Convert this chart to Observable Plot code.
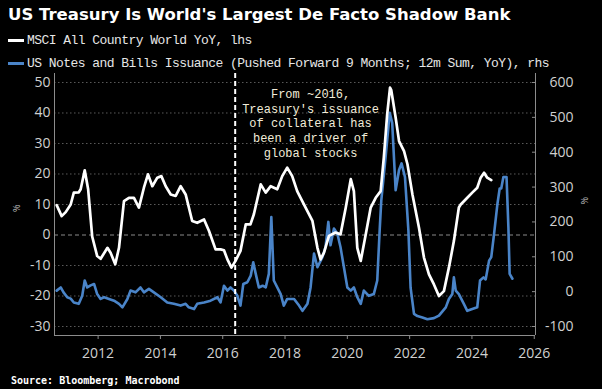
<!DOCTYPE html>
<html><head><meta charset="utf-8">
<script src="https://cdn.jsdelivr.net/npm/d3@7"></script>
<script src="https://cdn.jsdelivr.net/npm/@observablehq/plot@0.6"></script>
<style>
html,body{margin:0;padding:0;background:#000;}
body{width:602px;height:389px;overflow:hidden;}
#head{position:relative;height:70px;}
.title{position:absolute;left:8px;top:4px;font-family:"DejaVu Sans";font-weight:bold;font-size:16.5px;color:#fff;white-space:nowrap;line-height:22px;}
.leg{position:absolute;left:8px;height:16px;font-family:"Liberation Mono";font-size:13px;letter-spacing:-0.55px;color:#e6e6e6;white-space:nowrap;display:flex;align-items:center;}
.sw{display:inline-block;width:16px;height:3px;margin-right:3px;}
#chart svg{display:block;}
#foot{height:21px;line-height:21px;padding-left:11px;font-family:"DejaVu Sans Mono";font-weight:bold;font-size:10px;color:#fff;}
</style></head>
<body>
<div id="head">
  <div class="title">US Treasury Is World's Largest De Facto Shadow Bank</div>
  <div class="leg" style="top:32px"><span class="sw" style="background:#fff"></span>MSCI All Country World YoY, lhs</div>
  <div class="leg" style="top:55px"><span class="sw" style="background:#4a84c8"></span>US Notes and Bills Issuance (Pushed Forward 9 Months; 12m Sum, YoY), rhs</div>
</div>
<div id="chart"></div>
<div id="foot">Source: Bloomberg; Macrobond</div>
<script>
// MSCI All Country World YoY (%), left axis
const msciYears = [2010.67,2010.83,2010.96,2011.12,2011.22,2011.38,2011.44,2011.57,2011.68,2011.81,2011.97,2012.08,2012.30,2012.40,2012.55,2012.67,2012.83,2012.99,2013.15,2013.31,2013.47,2013.60,2013.74,2013.90,2014.03,2014.17,2014.33,2014.49,2014.65,2014.81,2015.02,2015.18,2015.40,2015.56,2015.77,2015.93,2016.04,2016.15,2016.28,2016.41,2016.57,2016.74,2016.89,2017.00,2017.22,2017.38,2017.54,2017.75,2017.91,2018.07,2018.23,2018.39,2018.50,2018.66,2018.88,2019.04,2019.14,2019.25,2019.41,2019.62,2019.78,2019.95,2020.11,2020.21,2020.32,2020.43,2020.59,2020.75,2020.91,2021.07,2021.17,2021.28,2021.37,2021.41,2021.55,2021.66,2021.82,2021.93,2022.09,2022.30,2022.46,2022.62,2022.78,2022.94,2023.10,2023.26,2023.42,2023.58,2023.64,2023.85,2024.01,2024.17,2024.28,2024.39,2024.49,2024.62];
const msciValues = [9.8,6.2,7.5,10,13.9,14,15,21.2,15,-0.5,-6.9,-7.8,-4.2,-5.8,-9.6,-4.2,11.1,12.2,12.2,9,15.5,19.9,16,18.8,19.3,16,13.3,12.8,16,13.3,4.6,4,5.1,1.3,-4.7,-4.7,-5,-8,-10.7,-8.5,-5.2,3.5,3.5,6.8,16.6,13.9,16,15,19.3,22.1,19.3,14.4,12.2,9,4.6,-4.2,-8,-5.8,-0.3,0.8,0.2,9,18.3,14.4,-4.2,-8.5,0.2,9,12.2,14.4,25.3,39.6,48.3,47.5,38.5,30.8,27.5,23.2,13.3,2.4,-7.4,-12.9,-16.2,-20,-18.4,-10.7,-2,9,10,12.2,13.9,15.5,18.8,20.4,18.8,18];

// US Notes and Bills issuance (%), right axis
const issYears = [2010.67,2010.80,2010.89,2011.01,2011.12,2011.22,2011.38,2011.49,2011.57,2011.65,2011.76,2011.87,2011.97,2012.08,2012.19,2012.35,2012.51,2012.67,2012.78,2012.94,2013.04,2013.20,2013.36,2013.47,2013.63,2013.79,2014.01,2014.22,2014.43,2014.65,2014.81,2014.91,2015.08,2015.18,2015.40,2015.61,2015.83,2015.93,2016.04,2016.15,2016.25,2016.36,2016.47,2016.57,2016.66,2016.79,2016.90,2016.98,2017.06,2017.16,2017.28,2017.38,2017.48,2017.56,2017.64,2017.86,2017.96,2018.07,2018.29,2018.45,2018.56,2018.72,2018.82,2018.93,2019.04,2019.20,2019.30,2019.39,2019.46,2019.57,2019.68,2019.78,2019.89,2020.00,2020.11,2020.21,2020.32,2020.43,2020.53,2020.69,2020.85,2020.96,2021.04,2021.09,2021.23,2021.36,2021.44,2021.55,2021.66,2021.74,2021.85,2021.96,2022.03,2022.14,2022.25,2022.41,2022.57,2022.78,2022.94,2023.16,2023.26,2023.37,2023.42,2023.48,2023.58,2023.74,2023.85,2024.01,2024.17,2024.26,2024.37,2024.44,2024.55,2024.62,2024.71,2024.82,2024.89,2024.94,2025.01,2025.11,2025.17,2025.21,2025.30];
const issValues = [3,12,-2,-16,-20,-31,-35,-12,32,12,18,22,-7,-21,-16,-21,-26,-35,-45,-21,3,-2,12,-2,8,-2,-16,-31,-35,-40,-35,-45,-50,-35,-31,-26,-16,-31,17,3,12,3,-12,-40,22,27,46,84,51,12,17,12,51,214,32,-7,-40,-21,-21,-40,-55,-35,12,109,70,99,128,200,133,181,166,128,70,12,3,12,-16,-35,3,-12,-7,32,180,262,387,513,484,291,349,368,329,176,12,-64,-70,-74,-79,-76,-69,-45,-21,-7,41,3,-7,-35,-55,-50,-45,32,41,35,89,99,166,253,296,296,329,329,185,51,37];

const xDomain = [2010.6, 2026.04];
const yDomain = [-32.95, 52.95];
const xTicks = [2012, 2014, 2016, 2018, 2020, 2022, 2024, 2026];
const leftTicks = [-30, -20, -10, 0, 10, 20, 30, 40, 50];
const rightTicks = [-100, 0, 100, 200, 300, 400, 500, 600];
const markerYear = [2016.4];
const annotation = [{year: 2018.82, value: 36.8, text: "From ~2016,\nTreasury's issuance\nof collateral has\nbeen a driver of\nglobal stocks"}];

// right-axis values mapped into left-axis units
const toLeft = d3.scaleLinear().domain([-100, 600]).range([-30, 50]);

const msci = msciYears.map((t, i) => ({t, v: msciValues[i]}));
const iss = issYears.map((t, i) => ({t, r: issValues[i]}));
const fmt = d => d < 0 ? "-" + Math.abs(d) : String(d);

const axisGray = "#8c8c8c";
const labelCol = "#d0d0d0";

const chart = Plot.plot({
  width: 602, height: 300,
  marginLeft: 54, marginRight: 67, marginTop: 3, marginBottom: 35,
  style: {background: "#000", color: labelCol, fontFamily: "Open Sans", fontSize: "14px", overflow: "visible"},
  x: {domain: xDomain, label: null},
  y: {domain: yDomain, label: null},
  marks: [
    Plot.gridY(leftTicks.filter(d => d !== 0), {stroke: "#5a5a5a", strokeOpacity: 1, strokeDasharray: "1.5,2.5"}),
    Plot.ruleY([0], {stroke: "#8a8a8a", strokeDasharray: "4,3"}),
    Plot.ruleX(xDomain, {stroke: axisGray}),
    Plot.ruleY([yDomain[0]], {stroke: axisGray}),
    Plot.axisX(xTicks, {tickSize: 4, tickPadding: 9, stroke: axisGray, fill: labelCol, tickFormat: d => String(d), label: null, fontSize: 14}),
    Plot.axisY(leftTicks, {anchor: "left", tickSize: 0, tickPadding: 4, fill: labelCol, tickFormat: fmt, label: null, fontSize: 14}),
    Plot.axisY(rightTicks.map(toLeft), {anchor: "right", tickSize: -4, stroke: axisGray, fill: "none", label: null}),
    Plot.axisY(rightTicks.map(toLeft), {anchor: "right", tickSize: 0, tickPadding: 0, dx: 38, textAnchor: "end", fill: labelCol, tickFormat: d => fmt(Math.round(toLeft.invert(d))), label: null, fontSize: 14}),
    Plot.text(["%"], {frameAnchor: "left", dx: -39, rotate: 90, text: d => d, fill: "#c8c8c8", fontSize: 9}),
    Plot.text(["%"], {frameAnchor: "right", dx: 48, rotate: 90, text: d => d, fill: "#c8c8c8", fontSize: 9}),
    Plot.line(iss, {x: "t", y: d => toLeft(d.r), stroke: "#4a84c8", strokeWidth: 2.6}),
    Plot.line(msci, {x: "t", y: "v", stroke: "#ffffff", strokeWidth: 2.7}),
    Plot.ruleX(markerYear, {stroke: "#fff", strokeWidth: 2, strokeDasharray: "5,3"}),
    Plot.text(annotation, {x: "year", y: "value", text: "text", fill: "#f2ecd9", fontFamily: "Liberation Mono", fontSize: 12, lineHeight: 1.23, textAnchor: "middle"})
  ]
});
document.getElementById("chart").appendChild(chart);
</script>
</body></html>
